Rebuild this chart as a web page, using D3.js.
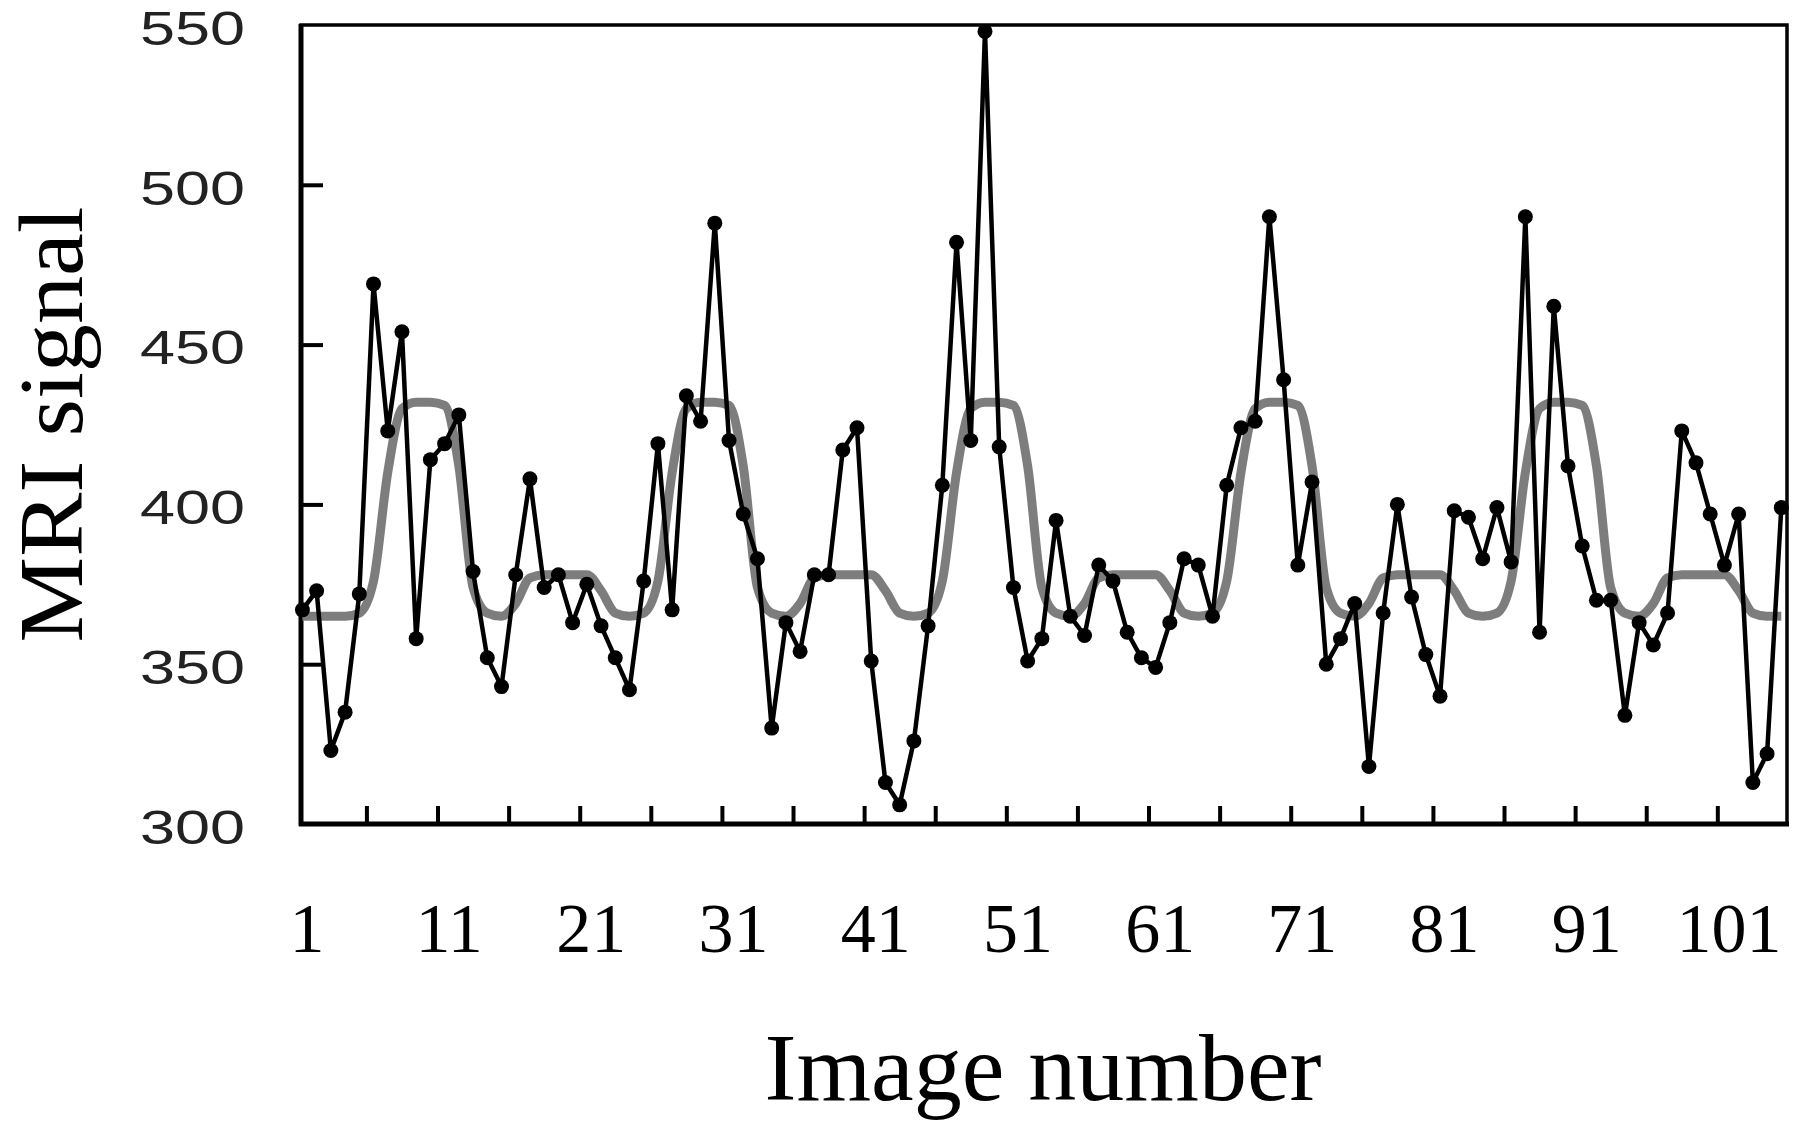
<!DOCTYPE html>
<html>
<head>
<meta charset="utf-8">
<script src="https://cdn.jsdelivr.net/npm/d3@7/dist/d3.min.js"></script>
<style>
  body { margin: 0; background: #fff; }
  svg { display: block; }
</style>
</head>
<body>
<div id="chart"></div>
<script>
// MRI signal per image (images 1..105)
const signal = [
    367, 373, 323, 335, 372, 469, 423, 454, 358, 414,
    419, 428, 379, 352, 343, 378, 408, 374, 378, 363,
    375, 362, 352, 342, 376, 419, 367, 434, 426, 488,
    420, 397, 383, 330, 363, 354, 378, 378, 417, 424,
    351, 313, 306, 326, 362, 406, 482, 420, 548, 418,
    374, 351, 358, 395, 365, 359, 381, 376, 360, 352,
    349, 363, 383, 381, 365, 406, 424, 426, 490, 439,
    381, 407, 350, 358, 369, 318, 366, 400, 371, 353,
    340, 398, 396, 383, 399, 382, 490, 360, 462, 412,
    387, 370, 370, 334, 363, 356, 366, 423, 413, 397,
    381, 397, 313, 322, 399
];

// fitted model (grey curve), same images
const model = [
    365, 365, 365, 365, 366, 376, 410, 430, 432, 432,
    431, 412, 374, 366, 365, 369, 377, 378, 378, 378,
    378, 373, 366, 365, 366, 376, 410, 430, 432, 432,
    431, 412, 374, 366, 365, 369, 377, 378, 378, 378,
    378, 373, 366, 365, 366, 376, 410, 430, 432, 432,
    431, 412, 374, 366, 365, 369, 377, 378, 378, 378,
    378, 373, 366, 365, 366, 376, 410, 430, 432, 432,
    431, 412, 374, 366, 365, 369, 377, 378, 378, 378,
    378, 373, 366, 365, 366, 376, 410, 430, 432, 432,
    431, 412, 374, 366, 365, 369, 377, 378, 378, 378,
    378, 373, 366, 365, 365
];

const yTickValues = [300, 350, 400, 450, 500, 550];
const xLabelValues = [1, 11, 21, 31, 41, 51, 61, 71, 81, 91, 101];
const xTickValues = [5.5, 10.5, 15.5, 20.5, 25.5, 30.5, 35.5, 40.5, 45.5, 50.5,
                     55.5, 60.5, 65.5, 70.5, 75.5, 80.5, 85.5, 90.5, 95.5, 100.5];

const width = 1800, height = 1132;
const plot = { left: 301, right: 1787, top: 25, bottom: 824 };

const svg = d3.select("#chart").append("svg")
    .attr("width", width)
    .attr("height", height);

const x = d3.scaleLinear().domain([0.9, 105.4]).range([plot.left, plot.right]);
const y = d3.scaleLinear().domain([300, 550]).range([plot.bottom, plot.top]);

// frame
svg.append("rect")
    .attr("x", plot.left).attr("y", plot.top)
    .attr("width", plot.right - plot.left).attr("height", plot.bottom - plot.top)
    .attr("fill", "none").attr("stroke", "#000").attr("stroke-width", 3.5);
svg.append("line")
    .attr("x1", plot.left).attr("x2", plot.left)
    .attr("y1", plot.top - 1).attr("y2", plot.bottom + 2)
    .attr("stroke", "#000").attr("stroke-width", 5);
svg.append("line")
    .attr("x1", plot.left - 2).attr("x2", plot.right + 2)
    .attr("y1", plot.bottom).attr("y2", plot.bottom)
    .attr("stroke", "#000").attr("stroke-width", 5);

// y axis: ticks pointing inward, labels well to the left
const gy = svg.append("g")
    .attr("transform", `translate(${plot.left},0)`)
    .call(d3.axisLeft(y).tickValues(yTickValues).tickSize(-22).tickPadding(56));
gy.select(".domain").remove();
gy.selectAll(".tick line")
    .attr("stroke", "#000").attr("stroke-width", 4)
    .filter(d => d === 300 || d === 550).remove();
gy.selectAll(".tick text")
    .attr("dy", "0.4em")
    .attr("font-family", "'Liberation Sans', Arial, sans-serif")
    .attr("font-size", 48)
    .attr("fill", "#222")
    .attr("textLength", 105)
    .attr("lengthAdjust", "spacingAndGlyphs");

// x tick marks (inward)
const gxt = svg.append("g")
    .attr("transform", `translate(0,${plot.bottom})`)
    .call(d3.axisBottom(x).tickValues(xTickValues).tickSize(-18).tickFormat(""));
gxt.select(".domain").remove();
gxt.selectAll(".tick line").attr("stroke", "#000").attr("stroke-width", 4);

// x labels
const gx = svg.append("g")
    .attr("transform", `translate(0,${plot.bottom})`)
    .call(d3.axisBottom(x).tickValues(xLabelValues).tickSize(0));
gx.select(".domain").remove();
gx.selectAll(".tick text")
    .attr("x", 4)
    .attr("y", 128)
    .attr("dy", null)
    .attr("font-family", "'Liberation Serif', 'Times New Roman', serif")
    .attr("font-size", 70)
    .attr("fill", "#000");

// model curve
const modelLine = d3.line()
    .x((d, i) => x(i + 1))
    .y(d => y(d))
    .curve(d3.curveMonotoneX);

svg.append("path")
    .datum(model)
    .attr("fill", "none")
    .attr("stroke", "#7d7d7d")
    .attr("stroke-width", 9)
    .attr("stroke-linejoin", "round")
    .attr("d", modelLine);

// signal
const signalLine = d3.line()
    .x((d, i) => x(i + 1))
    .y(d => y(d));

svg.append("path")
    .datum(signal)
    .attr("fill", "none")
    .attr("stroke", "#000")
    .attr("stroke-width", 4.5)
    .attr("stroke-linejoin", "round")
    .attr("d", signalLine);

svg.append("g")
    .selectAll("circle")
    .data(signal)
    .join("circle")
    .attr("cx", (d, i) => x(i + 1))
    .attr("cy", d => y(d))
    .attr("r", 7.5)
    .attr("fill", "#000");

// axis titles
svg.append("text")
    .attr("transform", `translate(82,${(plot.top + plot.bottom) / 2}) rotate(-90)`)
    .attr("text-anchor", "middle")
    .attr("font-family", "'Liberation Serif', 'Times New Roman', serif")
    .attr("font-size", 92)
    .attr("textLength", 436)
    .attr("lengthAdjust", "spacingAndGlyphs")
    .attr("fill", "#000")
    .text("MRI signal");

svg.append("text")
    .attr("x", 1043)
    .attr("y", 1100)
    .attr("text-anchor", "middle")
    .attr("font-family", "'Liberation Serif', 'Times New Roman', serif")
    .attr("font-size", 96)
    .attr("fill", "#000")
    .text("Image number");
</script>
</body>
</html>
